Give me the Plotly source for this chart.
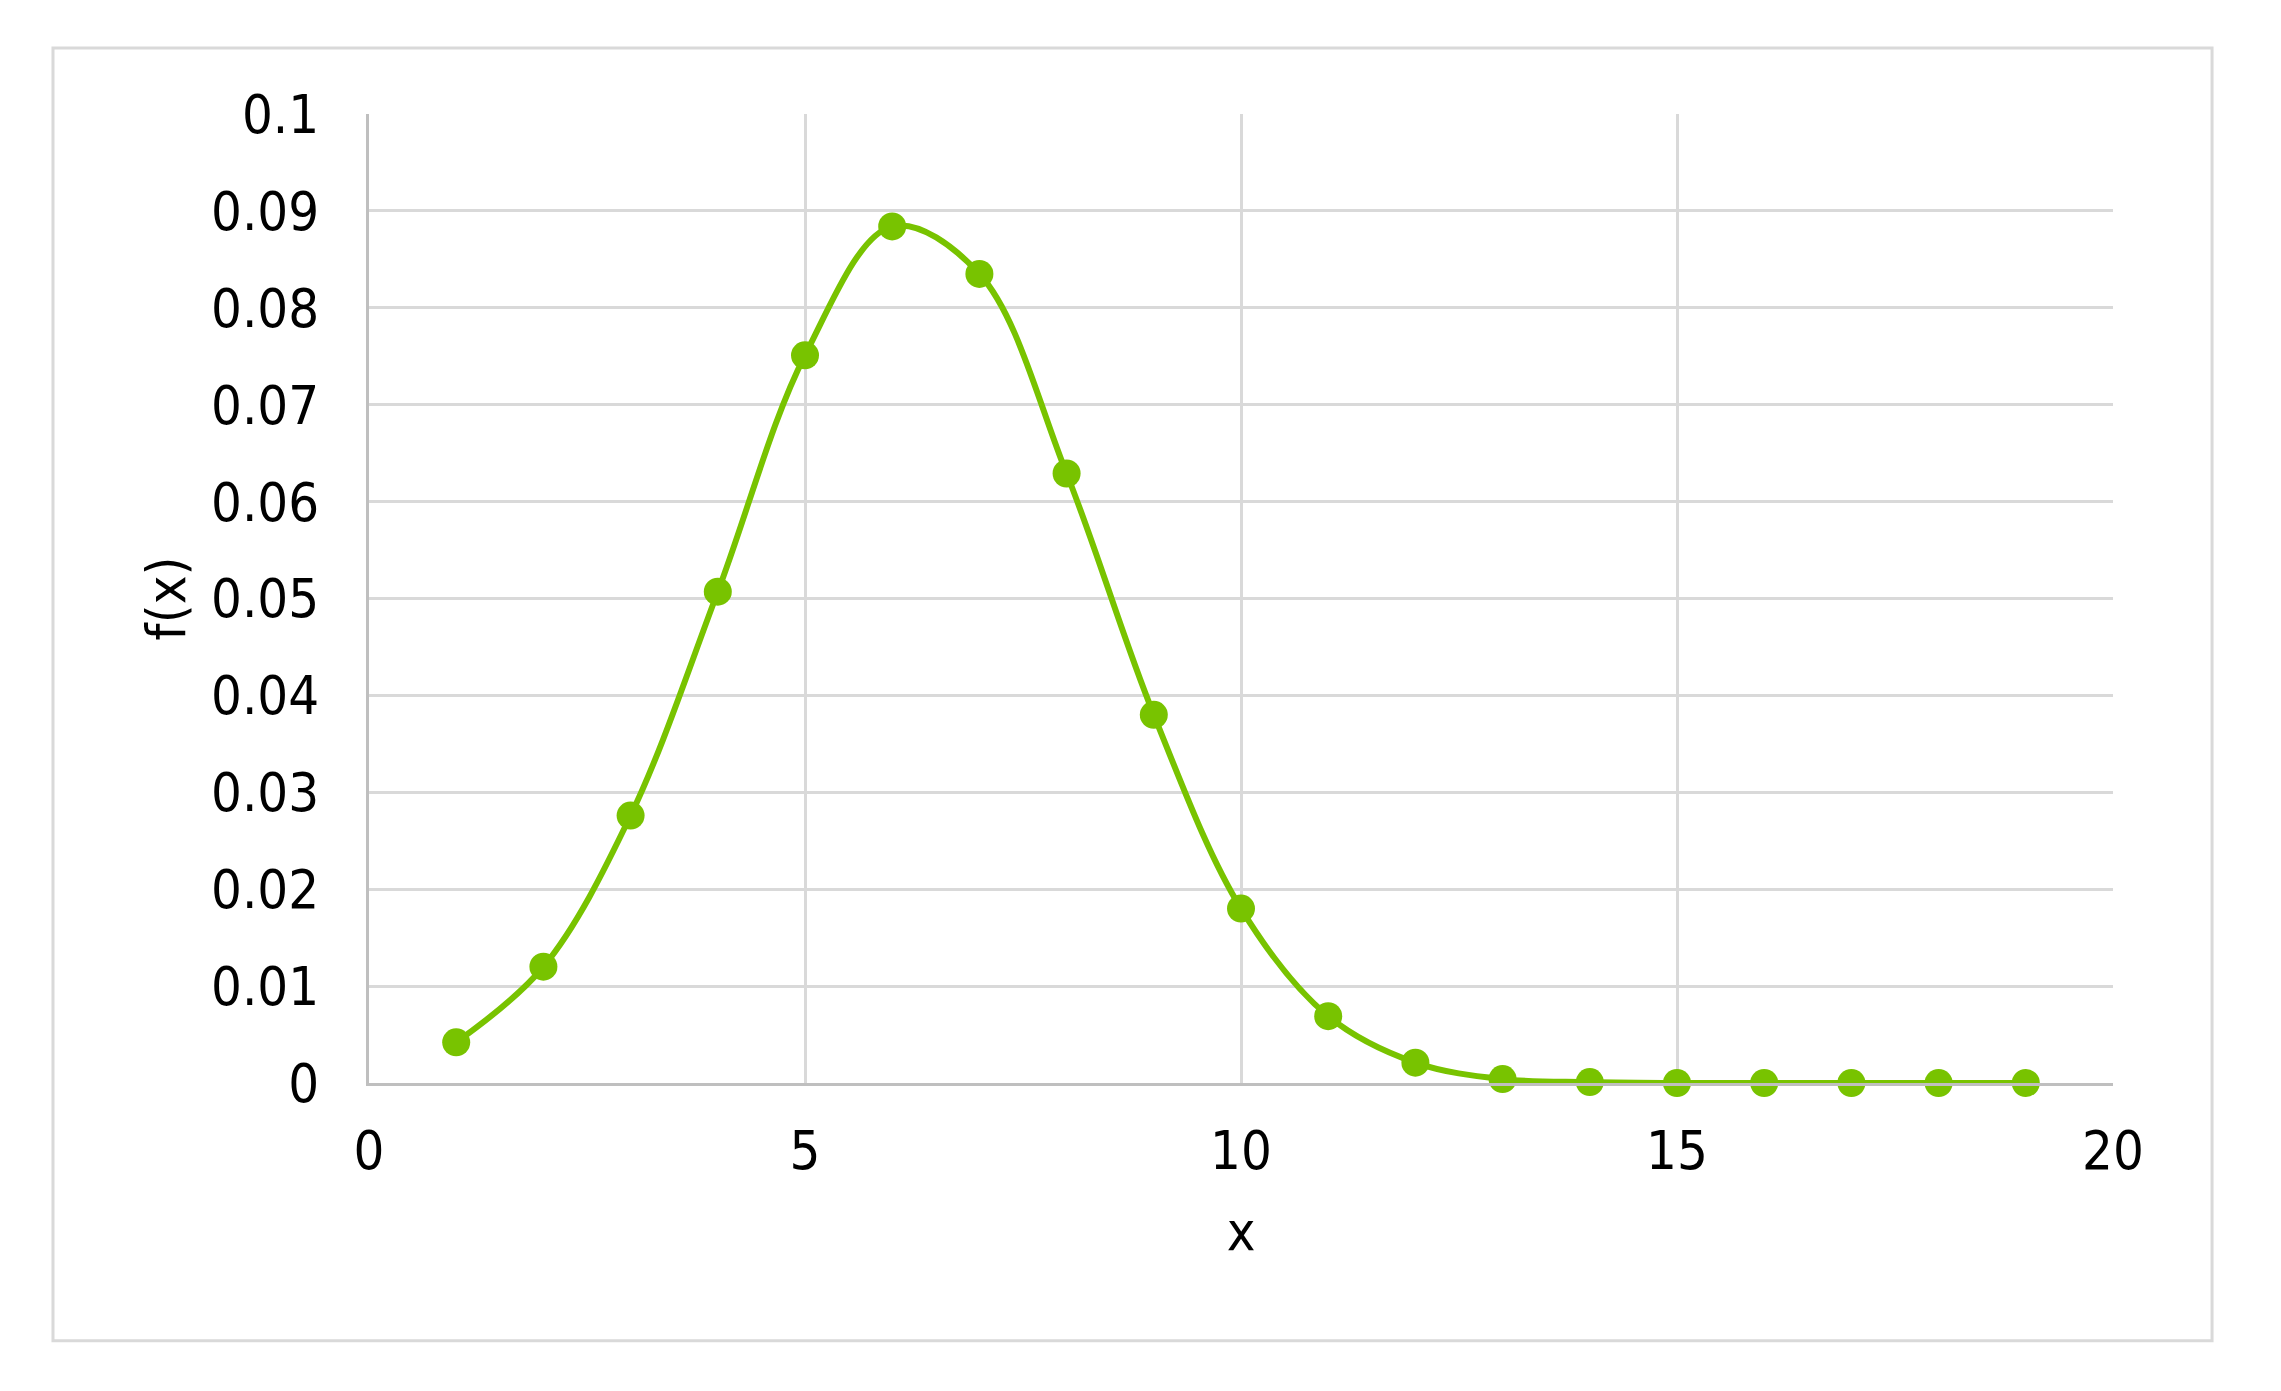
import plotly.graph_objects as go

# data
x_vals = list(range(1, 20))
fx_vals = [0.0042, 0.0120, 0.0276, 0.0507, 0.0751, 0.0884, 0.0835, 0.0629,
           0.0380, 0.0180, 0.0069, 0.0021, 0.0004, 0.0001, 0.0, 0.0, 0.0, 0.0, 0.0]

x_ticks = [0, 5, 10, 15, 20]
y_ticks = [0, 0.01, 0.02, 0.03, 0.04, 0.05, 0.06, 0.07, 0.08, 0.09, 0.1]
y_labels = ["0", "0.01", "0.02", "0.03", "0.04", "0.05", "0.06", "0.07", "0.08", "0.09", "0.1"]

green = "#78C300"
grid = "#D9D9D9"
font_family = "DejaVu Sans Condensed, DejaVu Sans, sans-serif"

fig = go.Figure()
fig.add_trace(go.Scatter(
    x=x_vals, y=fx_vals,
    mode="lines+markers",
    line=dict(color=green, width=6, shape="spline", smoothing=1),
    marker=dict(color=green, size=28),
    cliponaxis=False,
    showlegend=False,
))

fig.update_layout(
    width=2281, height=1391,
    margin=dict(l=361, r=176, t=106, b=316),
    paper_bgcolor="white", plot_bgcolor="white",
    font=dict(family=font_family, size=54, color="black"),
)

fig.update_xaxes(
    range=[0, 20], tickvals=x_ticks,
    showgrid=True, gridcolor=grid, gridwidth=3,
    showline=True, linecolor="#BFBFBF", linewidth=3,
    zeroline=False, ticks="", ticklabelstandoff=18,
    title=dict(text="x", font=dict(size=54), standoff=32),
)
fig.update_yaxes(
    range=[0, 0.1], tickvals=y_ticks, ticktext=y_labels,
    showgrid=True, gridcolor=grid, gridwidth=3,
    showline=True, linecolor="#BFBFBF", linewidth=3,
    zeroline=False, ticks="", ticklabelstandoff=36,
    title=dict(text="f(x)", font=dict(size=54), standoff=9),
)

# outer chart border
fig.add_shape(type="rect", xref="paper", yref="paper",
              x0=-0.1812, x1=1.0568, y0=-0.266, y1=1.068,
              line=dict(color=grid, width=3), layer="below")

fig.write_html("out.html")
